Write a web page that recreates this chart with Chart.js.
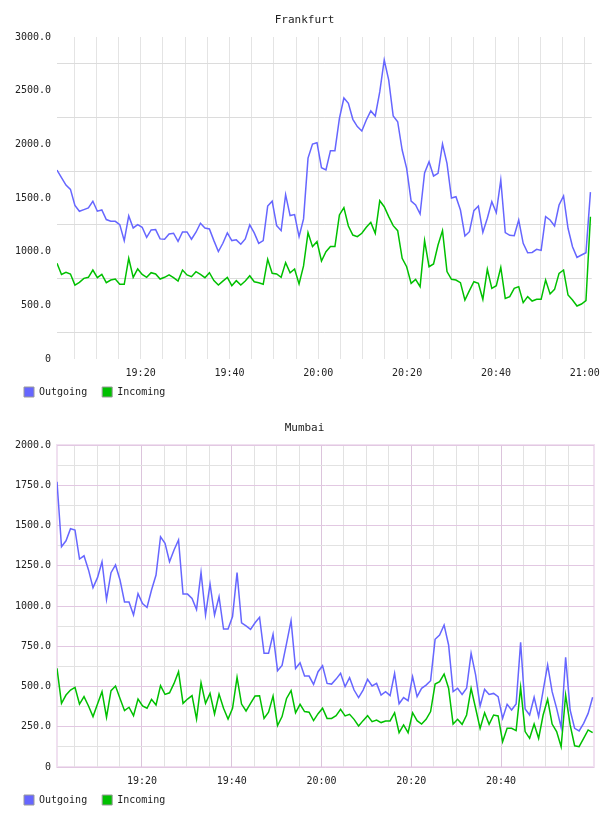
<!DOCTYPE html>
<html><head><meta charset="utf-8">
<script src="https://cdn.jsdelivr.net/npm/chart.js@4/dist/chart.umd.min.js"></script>
<style>
html,body{margin:0;padding:0;background:#fff;}
canvas{display:block;}
</style></head><body>
<canvas id="c1" width="608" height="408"></canvas>
<canvas id="c2" width="608" height="408"></canvas>
<script>
// ---------- Frankfurt (one sample per ~minute, minutes after 19:00) ----------
const frankfurtStart = 1.17;
const frankfurtStep = 1.0093;
const frankfurtXRange = [1.17, 121.57];
const frankfurtOutgoing = [
 1760,1690,1620,1580,1430,1376,1392,1408,1470,1377,1389,1299,1283,1283,1252,1103,1333,1221,1252,1227,
 1134,1203,1206,1119,1116,1165,1172,1097,1184,1184,1116,1181,1265,1221,1212,1103,1001,1078,1175,1103,
 1110,1069,1119,1249,1175,1078,1103,1425,1470,1243,1196,1531,1336,1345,1140,1305,
 1872,2003,2015,1782,1761,1941,1941,2242,2432,2382,2233,2165,2124,2227,2311,2264,2488,2786,2599,2264,
 2211,1947,1776,1472,1435,1351,1733,1838,1705,1730,2003,1823,1500,1512,1388,1146,1186,1382,1425,1180,
 1311,1466,1363,1668,1177,1152,1149,1295,1078,990,993,1022,1012,1326,1295,1239,1435,1519,1218,1046,
 947,969,990,1555
];
const frankfurtIncoming = [
 891,788,807,792,689,714,751,761,829,758,788,711,736,745,696,696,938,761,839,788,
 761,804,792,745,761,783,758,726,829,783,767,814,788,758,804,730,689,726,761,683,
 730,689,726,776,720,711,696,929,798,792,761,898,804,839,699,867,
 1177,1047,1093,913,1000,1047,1047,1342,1410,1239,1155,1140,1171,1227,1273,1171,1475,1419,1326,1242,
 1196,938,860,705,742,674,1103,860,885,1062,1196,814,742,736,711,550,637,720,705,556,
 836,658,683,854,565,581,658,674,525,581,540,556,556,736,606,649,798,829,596,550,
 494,512,543,1326
];
const frankfurtYTicks = [0,250,500,750,1000,1250,1500,1750,2000,2250,2500,2750,3000];

// ---------- Mumbai ----------
const mumbaiStart = 1.06;
const mumbaiStep = 1.003;
const mumbaiXRange = [1.06, 120.72];
const mumbaiOutgoing = [
 1772,1368,1405,1480,1472,1292,1312,1224,1114,1176,1275,1040,1207,1255,1162,1025,1025,944,1077,1015,
 991,1099,1192,1430,1389,1275,1348,1410,1074,1074,1047,978,1209,944,1137,944,1058,857,857,934,
 1207,896,876,855,896,930,706,706,824,598,631,768,909,612,647,565,565,513,592,
 629,519,515,546,582,499,555,478,431,478,544,503,519,447,468,443,582,393,431,412,
 561,437,489,509,536,793,820,882,758,468,489,451,489,706,572,379,482,451,457,437,
 302,389,354,391,774,360,323,433,313,474,634,468,364,246,681,354,240,224,271,333,433
];
const mumbaiIncoming = [
 613,395,447,478,495,391,437,379,313,391,468,309,474,503,426,350,371,319,422,379,
 365,420,385,505,451,461,519,592,395,422,443,298,523,395,457,329,453,365,298,365,
 557,391,348,395,441,443,302,340,441,257,313,426,474,337,389,344,340,288,331,
 365,302,302,319,358,317,327,296,255,288,319,282,292,276,286,286,337,213,261,213,
 337,288,267,296,344,515,530,577,489,267,296,265,323,489,365,240,337,265,323,317,
 157,240,240,226,495,220,178,267,178,323,420,267,220,126,447,261,132,126,178,230,213
];
const mumbaiYTicks = [0,125,250,375,500,625,750,875,1000,1125,1250,1375,1500,1625,1750,1875,2000];

// x ticks: minutes after 19:00, every 5 minutes
const xTickMinutes = [5,10,15,20,25,30,35,40,45,50,55,60,65,70,75,80,85,90,95,100,105,110,115,120];
const seriesNames = ['Outgoing', 'Incoming'];
const seriesColors = ['#6666ff', '#00c000'];

const FONT = '"DejaVu Sans Mono", "Liberation Mono", monospace';

function toPoints(start, step, vals) { return vals.map((v, i) => ({x: start + i * step, y: v})); }
function fmtTime(m) {
  const t = Math.round(m);
  const h = 19 + Math.floor(t / 60);
  return h + ':' + String(t % 60).padStart(2, '0');
}

const framePlugin = {
  id: 'frame',
  beforeDraw(chart, args, opts) {
    if (!opts || !opts.color) return;
    const a = chart.chartArea, ctx = chart.ctx;
    ctx.save();
    ctx.strokeStyle = opts.color;
    ctx.lineWidth = opts.width;
    ctx.strokeRect(a.left, a.top, a.right - a.left, a.bottom - a.top);
    ctx.restore();
  }
};

function makeChart(id, cfg) {
  new Chart(document.getElementById(id), {
    type: 'line',
    data: {
      datasets: [
        {label: seriesNames[0], data: toPoints(cfg.start, cfg.step, cfg.out), borderColor: seriesColors[0], backgroundColor: seriesColors[0], borderWidth: 1.5, pointRadius: 0, tension: 0, fill: false},
        {label: seriesNames[1], data: toPoints(cfg.start, cfg.step, cfg.inc), borderColor: seriesColors[1], backgroundColor: seriesColors[1], borderWidth: 1.5, pointRadius: 0, tension: 0, fill: false}
      ]
    },
    plugins: [framePlugin],
    options: {
      responsive: false,
      animation: false,
      events: [],
      layout: {padding: {left: 15, right: 14, top: 0, bottom: 1}},
      plugins: {
        frame: cfg.frame,
        tooltip: {enabled: false},
        title: {
          display: true, text: cfg.title, color: '#222',
          font: {family: FONT, size: 11, weight: 'normal'},
          padding: {top: 14, bottom: 9.8}
        },
        legend: {
          display: true, position: 'bottom', align: 'start',
          labels: {
            boxWidth: 10, boxHeight: 10, padding: 9, color: '#222',
            font: {family: FONT, size: 10},
            generateLabels: (chart) => chart.data.datasets.map((ds, i) => ({
              text: ds.label + '\u00a0', fillStyle: ds.borderColor, strokeStyle: '#9a9a9a',
              lineWidth: 1, hidden: false, datasetIndex: i, fontColor: '#222'
            }))
          }
        }
      },
      scales: {
        x: {
          type: 'linear', min: cfg.xRange[0], max: cfg.xRange[1],
          afterBuildTicks: (s) => { s.ticks = xTickMinutes.map(v => ({value: v})); },
          afterFit: (s) => { s.height = 19; },
          border: {display: false},
          grid: {drawTicks: false, lineWidth: 1, color: (c) => cfg.xGrid(c.tick ? c.tick.value : 0)},
          ticks: {
            autoSkip: false, maxRotation: 0, minRotation: 0, padding: 8, color: '#222',
            font: {family: FONT, size: 10},
            callback: (v) => (v % 20 === 0 && v <= cfg.lastXLabel) ? fmtTime(v) : ''
          }
        },
        y: {
          min: 0, max: cfg.yTicks[cfg.yTicks.length - 1],
          afterBuildTicks: (s) => { s.ticks = cfg.yTicks.map(v => ({value: v})); },
          afterFit: (s) => { s.width = 42; },
          border: {display: false},
          grid: {drawTicks: false, lineWidth: 1, color: (c) => cfg.yGrid(c.tick ? c.tick.value : 0)},
          ticks: {
            autoSkip: false, padding: 6, color: '#222',
            font: {family: FONT, size: 10},
            callback: (v) => (v % cfg.labelEvery === 0) ? (v === 0 ? '0' : v.toFixed(1)) : ''
          }
        }
      }
    }
  });
}

makeChart('c1', {
  title: 'Frankfurt', start: frankfurtStart, step: frankfurtStep, xRange: frankfurtXRange,
  out: frankfurtOutgoing, inc: frankfurtIncoming, yTicks: frankfurtYTicks, labelEvery: 500,
  lastXLabel: 120, frame: {},
  xGrid: () => '#e4e4e4',
  yGrid: (v) => (v % 500 === 250) ? '#dcdcdc' : 'rgba(0,0,0,0)'
});

makeChart('c2', {
  title: 'Mumbai', start: mumbaiStart, step: mumbaiStep, xRange: mumbaiXRange,
  out: mumbaiOutgoing, inc: mumbaiIncoming, yTicks: mumbaiYTicks, labelEvery: 250,
  lastXLabel: 110, frame: {color: '#f0e0f0', width: 2},
  xGrid: (v) => (v >= 120) ? 'rgba(0,0,0,0)' : ((v % 20 === 0) ? '#dcc4dc' : '#e2e2e2'),
  yGrid: (v) => (v % 250 === 0) ? '#e2c8e2' : '#e2e2e2'
});
</script>
</body></html>
